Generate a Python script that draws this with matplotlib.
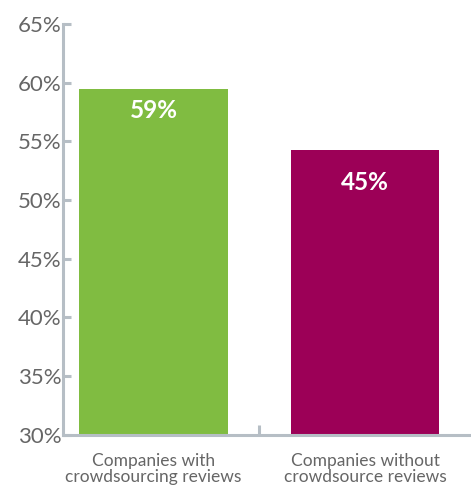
import matplotlib
matplotlib.use("Agg")
import matplotlib.pyplot as plt

categories = ["Companies with\ncrowdsourcing reviews", "Companies without\ncrowdsource reviews"]
values = [59.45, 54.25]
bar_labels = ["59%", "45%"]
yticks = [30, 35, 40, 45, 50, 55, 60, 65]

GREEN, MAGENTA = "#80BC41", "#9C0057"
AXIS, TEXT = "#B6BEC5", "#666666"

plt.rcParams["font.family"] = ["Lato", "DejaVu Sans"]

fig = plt.figure(figsize=(4.71, 4.87), dpi=100)
ax = fig.add_axes([0.134, 0.107, 0.866, 0.844])

x = list(range(len(categories)))
ax.bar(x, [v - 30 for v in values], bottom=30, width=0.70, color=[GREEN, MAGENTA], zorder=2)
offsets = [1.85, 2.75]
for xi, v, lab, off in zip(x, values, bar_labels, offsets):
    ax.text(xi, v - off, lab, ha="center", va="center", color="white",
            fontsize=17.5, fontweight="bold")

ax.set_xlim(-0.427, 1.5)
ax.set_ylim(30, 65)
ax.set_yticks(yticks)
ax.set_yticklabels([f"{t}%" for t in yticks])
ax.set_xticks(x)
ax.set_xticklabels(categories, fontsize=12.5, color=TEXT, linespacing=0.98)
ax.set_xticks([0.5], minor=True)

for s in ["top", "right"]:
    ax.spines[s].set_visible(False)
for s in ["left", "bottom"]:
    ax.spines[s].set_color(AXIS)
    ax.spines[s].set_linewidth(2.2)

ax.tick_params(axis="y", direction="in", length=6, width=2.2, color=AXIS,
               labelsize=16, labelcolor=TEXT, pad=1)
ax.tick_params(axis="x", which="major", length=0, pad=13)
ax.tick_params(axis="x", which="minor", direction="in", length=7, width=2.2, color=AXIS)

fig.savefig("out.png", dpi=100, facecolor="white")
